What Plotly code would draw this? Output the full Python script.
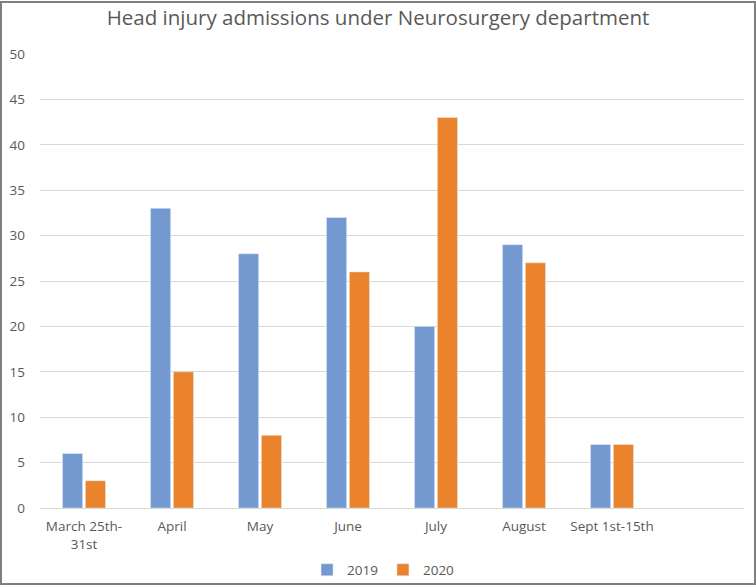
import plotly.graph_objects as go

# Data
months = ["March 25th-<br>31st", "April", "May", "June", "July", "August", "Sept 1st-15th", " "]
admissions_2019 = [6, 33, 28, 32, 20, 29, 7, None]
admissions_2020 = [3, 15, 8, 26, 43, 27, 7, None]

W, H = 756, 585
L, R, T, B = 40, 12, 54, 77
pw, ph = W - L - R, H - T - B

fig = go.Figure()
fig.add_trace(go.Bar(x=months, y=admissions_2019, name="2019", marker_color="#7399D0"))
fig.add_trace(go.Bar(x=months, y=admissions_2020, name="2020", marker_color="#EA832B"))

# outer frame around the whole chart (pixel coords converted to paper)
fx0, fx1, fy_top, fy_bot = 1, 755, 2, 584
fig.add_shape(type="rect", xref="paper", yref="paper",
              x0=(fx0 - L) / pw, x1=(fx1 - L) / pw,
              y0=(T + ph - fy_bot) / ph, y1=(T + ph - fy_top) / ph,
              line=dict(color="#7F7F7F", width=2), layer="above")

fig.update_layout(
    width=W, height=H,
    margin=dict(l=L, r=R, t=T, b=B, autoexpand=False),
    paper_bgcolor="white", plot_bgcolor="white",
    font=dict(family="Open Sans", size=13.5, color="#595959"),
    title=dict(text="Head injury admissions under Neurosurgery department",
               x=0.5, xanchor="center", y=1 - 18 / H, yanchor="middle",
               font=dict(size=20.5, color="#595959")),
    barmode="group", bargap=0.48, bargroupgap=0.12,
    legend=dict(orientation="h", x=0.488, xanchor="center",
                yref="container", y=1 - 570 / H, yanchor="middle",
                font=dict(size=13.5), traceorder="normal", itemwidth=30,
                bgcolor="rgba(0,0,0,0)"),
    xaxis=dict(showgrid=False, showline=True, linecolor="#D9D9D9", ticks="",
               ticklabelstandoff=6, fixedrange=True),
    yaxis=dict(range=[0, 50], dtick=5, showgrid=True, gridcolor="#D9D9D9",
               zeroline=False, ticks="", ticklabelstandoff=14),
)

fig.write_html("out.html", config={"displayModeBar": False},
               post_script="document.body.style.margin='0px';")
